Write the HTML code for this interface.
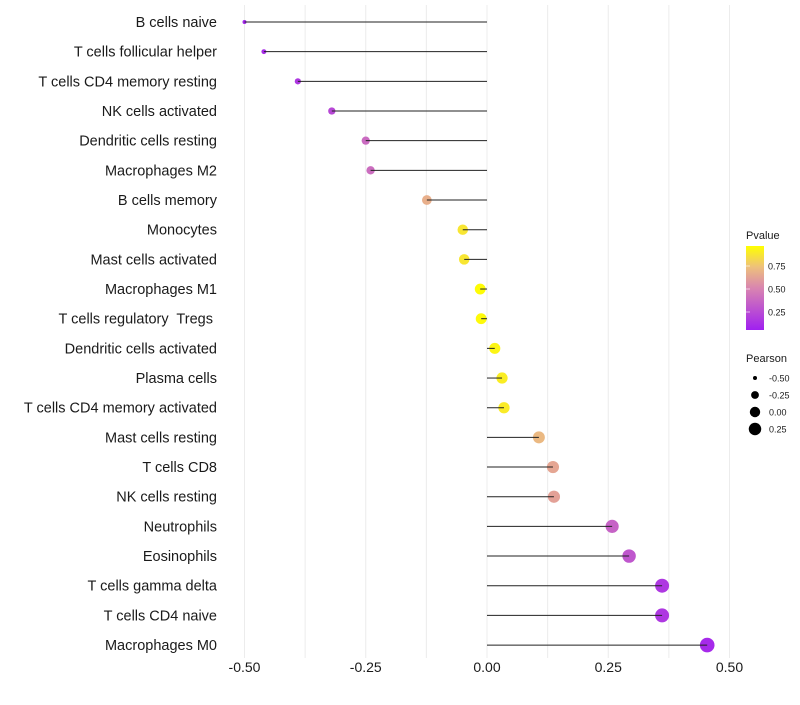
<!DOCTYPE html>
<html><head><meta charset="utf-8"><style>
body{margin:0;background:#fff;font-family:"Liberation Sans",sans-serif}
text{white-space:pre}
</style></head><body>
<svg id="chart" width="800" height="700" xmlns="http://www.w3.org/2000/svg">
<defs><linearGradient id="pg" x1="0" y1="1" x2="0" y2="0">
<stop offset="0" stop-color="#a020f0"/><stop offset="0.5" stop-color="#d985b0"/><stop offset="0.75" stop-color="#eec07c"/><stop offset="1" stop-color="#ffff00"/>
</linearGradient></defs>
<g id="grid"></g><g id="points"></g><g id="marks"></g><g id="labels"></g><g id="legend"></g>
</svg>
<script>
const categories=["B cells naive","T cells follicular helper","T cells CD4 memory resting","NK cells activated","Dendritic cells resting","Macrophages M2","B cells memory","Monocytes","Mast cells activated","Macrophages M1","T cells regulatory  Tregs ","Dendritic cells activated","Plasma cells","T cells CD4 memory activated","Mast cells resting","T cells CD8","NK cells resting","Neutrophils","Eosinophils","T cells gamma delta","T cells CD4 naive","Macrophages M0"];
const pearson=[-0.50,-0.46,-0.39,-0.32,-0.25,-0.24,-0.124,-0.05,-0.047,-0.014,-0.012,0.016,0.031,0.035,0.107,0.136,0.138,0.258,0.293,0.361,0.361,0.454];
const pvalue=[0.03,0.06,0.12,0.2,0.37,0.38,0.68,0.9,0.9,0.99,0.98,0.96,0.93,0.92,0.72,0.64,0.62,0.33,0.27,0.12,0.12,0.05];
const xTicks=[-0.5,-0.25,0,0.25,0.5];
const xTickLabels=["-0.50","-0.25","0.00","0.25","0.50"];
const NS="http://www.w3.org/2000/svg";
const x=v=>487+v*485;
const y=i=>22+i*29.67;
const rad=v=>Math.sqrt(Math.max(3,30+52*v));
function lerp(a,b,t){return a.map((c,i)=>Math.round(c+(b[i]-c)*t));}
const stops=[[0,[160,32,240]],[0.5,[217,133,176]],[0.75,[238,192,124]],[1,[255,255,0]]];
function col(p){for(let k=1;k<stops.length;k++){if(p<=stops[k][0]){const t=(p-stops[k-1][0])/(stops[k][0]-stops[k-1][0]);return "rgb("+lerp(stops[k-1][1],stops[k][1],t).join(",")+")";}}return "rgb(255,255,0)";}
function mk(tag,attrs,parent,text){const e=document.createElementNS(NS,tag);for(const k in attrs)e.setAttribute(k,attrs[k]);if(text!==undefined)e.textContent=text;document.getElementById(parent).appendChild(e);return e;}
[-0.5,-0.375,-0.25,-0.125,0,0.125,0.25,0.375,0.5].forEach(v=>{
 const g=mk("line",{x1:x(v),x2:x(v),y1:5,y2:658,stroke:"#ececec","stroke-width":1},"grid");
 
 
});
categories.forEach((c,i)=>{
 const p=mk("circle",{cx:x(pearson[i]),cy:y(i),r:rad(pearson[i]),fill:col(pvalue[i])},"points");
 
 
 const l=mk("line",{x1:x(0),x2:x(pearson[i]),y1:y(i),y2:y(i),stroke:"#222","stroke-width":1},"marks");
 
 
 const t=mk("text",{x:217,y:y(i)+5,"text-anchor":"end","font-size":14.5,fill:"#1a1a1a"},"labels",c);
 
 
});
xTicks.forEach((v,i)=>{
 const t=mk("text",{x:x(v),y:672,"text-anchor":"middle","font-size":14,fill:"#1a1a1a"},"labels",xTickLabels[i]);
 
 
});
let e=mk("text",{x:746,y:239,"font-size":11,fill:"#1a1a1a"},"legend","Pvalue");


e=mk("rect",{x:746,y:246,width:18,height:84,fill:"url(#pg)"},"legend");


[[0.75,"0.75"],[0.5,"0.50"],[0.25,"0.25"]].forEach(([v,s])=>{
 const yy=335-v*92;
 const t=mk("text",{x:768,y:yy+3.5,"font-size":9,fill:"#1a1a1a"},"legend",s);
 
 
 const l=mk("line",{x1:746,x2:750,y1:yy,y2:yy,stroke:"#fff","stroke-width":1,opacity:0.6},"legend");
 
 
});
e=mk("text",{x:746,y:362,"font-size":11,fill:"#1a1a1a"},"legend","Pearson");


[[-0.5,"-0.50"],[-0.25,"-0.25"],[0,"0.00"],[0.25,"0.25"]].forEach(([v,s],k)=>{
 const yy=378+k*17;
 const c=mk("circle",{cx:755,cy:yy,r:Math.max(2,rad(v)*0.95),fill:"#000"},"legend");
 
 
 const t=mk("text",{x:769,y:yy+3.5,"font-size":9,fill:"#1a1a1a"},"legend",s);
 
 
});
</script>
</body></html>
